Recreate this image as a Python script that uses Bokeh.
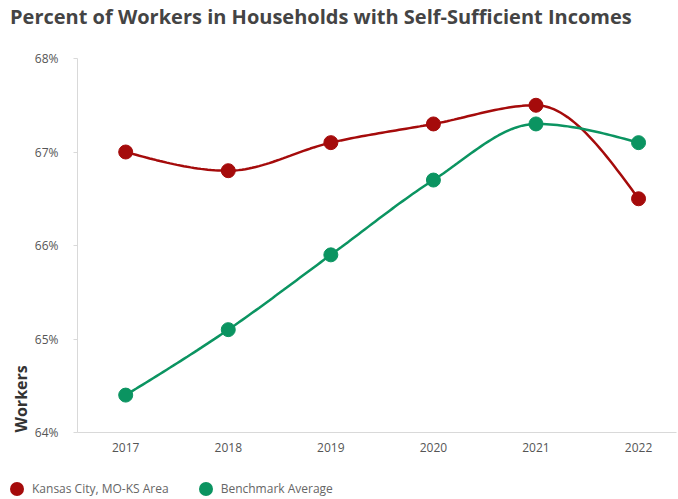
import numpy as np
from bokeh.plotting import figure
from bokeh.layouts import column
from bokeh.models import Range1d, FixedTicker, Title, Div, CustomJSTickFormatter
from bokeh.embed import file_html
from bokeh.resources import INLINE

years = [2017, 2018, 2019, 2020, 2021, 2022]
kansas_city = [67.0, 66.8, 67.1, 67.3, 67.5, 66.5]
benchmark = [64.4, 65.1, 65.9, 66.7, 67.3, 67.1]
series_names = ["Kansas City, MO-KS Area", "Benchmark Average"]
y_ticks = [64, 65, 66, 67, 68]
title_text = "Percent of Workers in Households with Self-Sufficient Incomes"

RED = "#a50b0b"
GREEN = "#0b9461"
FONT = "Open Sans"
FRAME_LEFT = 77


def monotone_curve(xs, ys, n=30):
    # d3 curveMonotoneX-style rendering of the polyline through the data points
    xs = np.asarray(xs, float)
    ys = np.asarray(ys, float)
    h = np.diff(xs)
    s = np.diff(ys) / h
    m = np.zeros(len(xs))
    for i in range(1, len(xs) - 1):
        if s[i - 1] * s[i] <= 0:
            m[i] = 0.0
        else:
            p_ = (s[i - 1] * h[i] + s[i] * h[i - 1]) / (h[i - 1] + h[i])
            m[i] = (np.sign(s[i - 1]) + np.sign(s[i])) * min(abs(s[i - 1]), abs(s[i]), 0.5 * abs(p_))
    m[0] = (3 * s[0] - m[1]) / 2
    m[-1] = (3 * s[-1] - m[-2]) / 2
    out_x, out_y = [], []
    for i in range(len(xs) - 1):
        t = np.linspace(0, 1, n, endpoint=(i == len(xs) - 2))
        h00 = 2 * t**3 - 3 * t**2 + 1
        h10 = t**3 - 2 * t**2 + t
        h01 = -2 * t**3 + 3 * t**2
        h11 = t**3 - t**2
        out_x.extend(xs[i] + t * h[i])
        out_y.extend(h00 * ys[i] + h10 * h[i] * m[i] + h01 * ys[i + 1] + h11 * h[i] * m[i + 1])
    return out_x, out_y


# title strip
top = Div(text=title_text, width=678, height=40,
          styles={"margin": "0", "padding": "6px 0 0 10px", "box-sizing": "border-box",
                  "font-family": "'Open Sans', sans-serif", "font-size": "20px",
                  "line-height": "22px", "font-weight": "bold", "color": "#444444",
                  "white-space": "nowrap"})

p = figure(width=678, height=430, output_backend="svg", toolbar_location=None, title=None,
           x_range=Range1d(2016.53, 2022.37), y_range=Range1d(64, 68),
           min_border_left=FRAME_LEFT, min_border_right=2, min_border_top=18, min_border_bottom=38)

p.outline_line_color = None
p.xgrid.grid_line_color = None
p.ygrid.grid_line_color = None

for vals, color in [(kansas_city, RED), (benchmark, GREEN)]:
    cx, cy = monotone_curve(years, vals)
    p.line(cx, cy, line_color=color, line_width=2.5)
    p.scatter(years, vals, size=14, fill_color=color, line_color=color)

p.xaxis.ticker = FixedTicker(ticks=years)
p.xaxis.major_tick_line_color = None
p.xaxis.minor_tick_line_color = None
p.xaxis.axis_line_color = "#d9d9d9"
p.xaxis.major_label_text_font = FONT
p.xaxis.major_label_text_font_size = "12px"
p.xaxis.major_label_text_color = "#555555"
p.xaxis.major_label_standoff = 4

p.yaxis.ticker = FixedTicker(ticks=y_ticks)
p.yaxis.formatter = CustomJSTickFormatter(code="return tick.toFixed(0) + '%';")
p.yaxis.minor_tick_line_color = None
p.yaxis.major_tick_line_color = "#d9d9d9"
p.yaxis.major_tick_out = 4
p.yaxis.major_tick_in = 0
p.yaxis.axis_line_color = "#d9d9d9"
p.yaxis.major_label_text_font = FONT
p.yaxis.major_label_text_font_size = "12px"
p.yaxis.major_label_text_color = "#555555"
p.yaxis.major_label_standoff = 15

ylab = Title(text="Workers", align="left", text_font=FONT, text_font_size="16px",
             text_font_style="bold", text_color="#333333", offset=0, standoff=0)
p.add_layout(ylab, "left")

# legend strip (HTML legend below the chart)
dot = ("<span style='display:inline-block;width:14px;height:14px;border-radius:50%;"
       "background:{c};vertical-align:middle;margin-right:8px'></span>")
item = "<span style='display:inline-block;margin-right:30px;vertical-align:middle'>{d}<span style='vertical-align:middle'>{t}</span></span>"
legend_html = "".join(item.format(d=dot.format(c=c), t=n) for n, c in zip(series_names, [RED, GREEN]))
lg = Div(text=legend_html, width=678, height=29,
         styles={"margin": "0", "padding": "11px 0 0 10px", "box-sizing": "border-box",
                 "font-family": "'Open Sans', sans-serif", "font-size": "12px",
                 "line-height": "14px", "color": "#666666", "white-space": "nowrap"})

layout = column(top, p, lg, spacing=0)
open("out.html", "w").write(file_html(layout, INLINE))
